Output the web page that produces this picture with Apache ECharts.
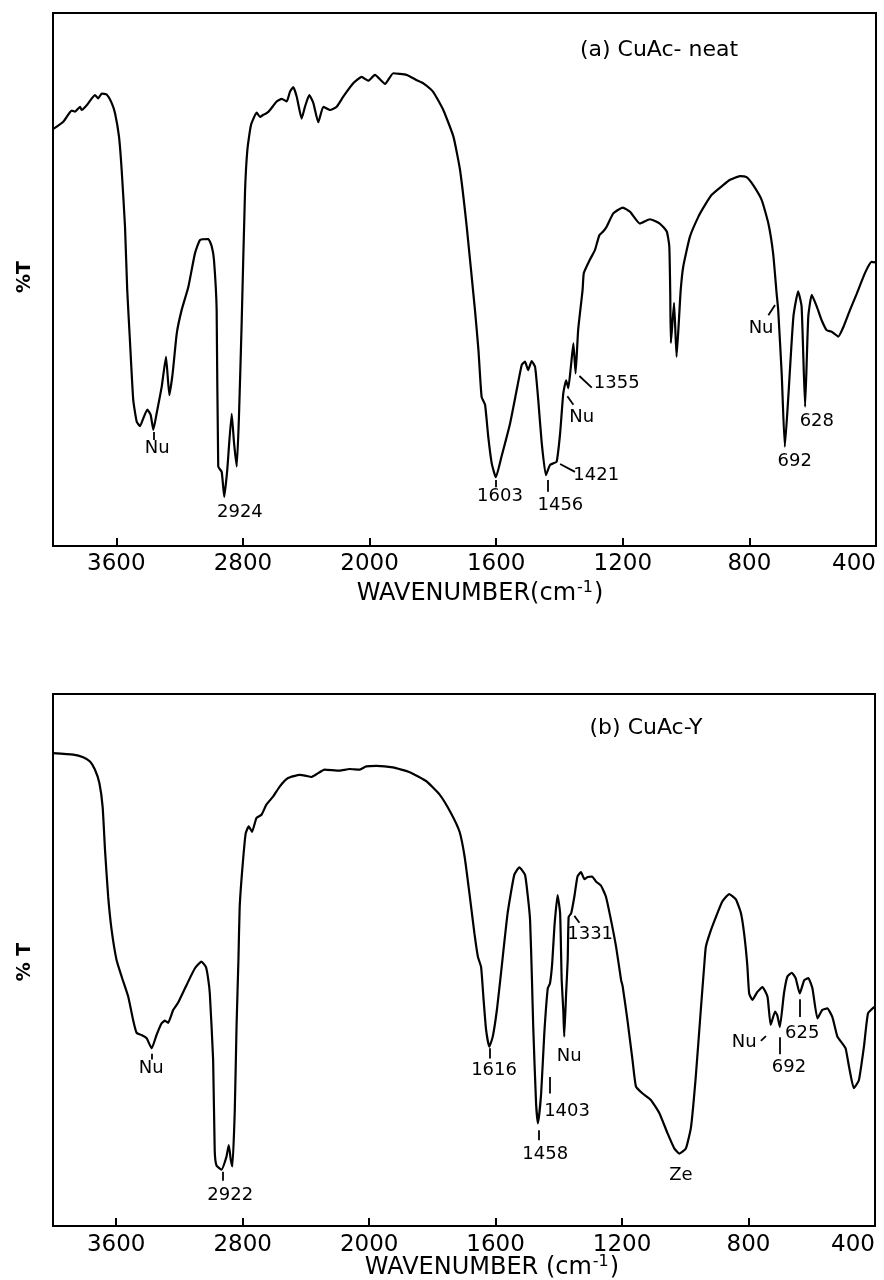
<!DOCTYPE html>
<html>
<head>
<meta charset="utf-8">
<script src="https://cdn.jsdelivr.net/npm/echarts@6.0.0/dist/echarts.min.js"></script>
<style>
html,body{margin:0;padding:0;background:#fff;}
#chart{width:884px;height:1280px;}
</style>
</head>
<body>
<div id="chart"></div>
<script>
// ---------- DATA (wavenumber in cm-1, %T on a 0-100 frame scale) ----------
const tickWavenumbers = [3600, 2800, 2000, 1600, 1200, 800, 400];

const waveA = [4000,3935,3882,3861,3829,3819,3787,3735,3714,3692,3661,3629,3608,3583,3566,3545,3531,3514,3493,3471,
  3450,3429,3404,3383,3366,3345,3313,3286,3265,3244,3218,3187,3145,3103,3071,3019,2997,2983,2966,2956,
  2934,2918,2899,2871,2856,2839,2825,2808,2787,2772,2749,2713,2692,2671,2650,2629,2587,2555,2523,2503,
  2482,2460,2429,2408,2381,2355,2324,2292,2250,2208,2166,2103,2050,2008,1983,1951,1925,1883,1851,1830,
  1799,1767,1735,1714,1693,1667,1656,1646,1635,1625,1614,1601,1583,1556,1535,1519,1509,1499,1488,1477,
  1467,1456,1443,1430,1420,1409,1398,1388,1379,1372,1364,1356,1349,1341,1327,1323,1304,1288,1274,1262,
  1251,1230,1200,1177,1146,1114,1083,1061,1053,1050,1048,1038,1030,1022,1017,1009,988,961,940,919,
  883,861,830,809,788,761,740,725,714,709,698,688,677,661,646,635,624,614,603,587,
  572,556,540,519,503,482,461,435,414,400];
const transA = [78.2,79.6,81.7,81.5,82.4,81.8,82.7,84.6,84.0,84.9,84.7,83.1,81.2,76.8,70.5,59.9,48.0,38.6,27.4,23.3,
  22.5,24.0,25.6,24.6,21.8,24.9,29.9,35.5,28.3,32.4,39.9,44.3,48.6,54.9,57.4,57.6,56.2,53.7,44.3,14.9,
  13.9,9.2,14.3,24.8,19.3,14.9,24.3,41.8,66.2,74.3,79.0,81.3,80.5,80.9,81.2,81.8,83.4,83.9,83.4,85.2,
  86.1,84.3,80.2,82.4,84.6,83.1,79.5,82.4,81.8,82.4,84.3,86.8,88.0,87.3,88.4,86.7,88.7,88.4,87.4,86.8,
  85.2,81.8,76.8,70.5,59.9,44.3,36.8,28.0,26.5,20.5,15.5,12.9,16.8,23.0,29.3,34.0,34.6,33.0,34.7,33.6,
  27.4,19.3,13.3,15.2,15.5,15.8,21.1,28.6,31.1,29.6,33.6,38.0,32.4,40.5,48.0,51.2,53.7,55.5,58.3,59.0,
  59.9,62.4,63.5,62.7,60.5,61.3,60.5,59.0,56.2,47.4,38.1,45.6,35.5,43.0,48.0,52.4,58.0,61.8,64.0,65.9,
  67.7,68.7,69.4,69.2,67.7,64.9,60.5,54.9,47.4,44.3,32.4,18.6,28.0,43.0,47.8,44.9,26.1,43.0,47.1,44.9,
  42.4,40.5,40.2,39.3,41.1,44.3,47.3,51.2,53.3,53.2];

const waveB = [4000,3872,3809,3766,3735,3707,3686,3671,3651,3629,3598,3566,3524,3493,3471,3440,3408,3376,3345,3313,
  3292,3272,3240,3208,3155,3103,3061,3033,3019,3008,2987,2977,2966,2934,2903,2888,2875,2865,2850,2839,
  2827,2819,2801,2781,2762,2741,2713,2681,2650,2608,2566,2513,2439,2397,2366,2334,2282,2187,2124,2060,
  2018,1977,1925,1872,1819,1777,1741,1714,1698,1683,1667,1656,1646,1638,1630,1620,1609,1596,1583,1562,
  1541,1525,1507,1498,1491,1485,1481,1472,1466,1456,1446,1435,1428,1421,1414,1404,1396,1391,1386,1383,
  1377,1372,1369,1361,1351,1341,1330,1319,1309,1295,1282,1267,1251,1235,1219,1203,1198,1183,1167,1156,
  1135,1109,1082,1056,1035,1019,998,982,967,951,940,935,919,903,883,861,840,824,814,804,
  798,788,772,756,740,730,716,709,701,688,677,663,651,638,624,611,598,582,567,551,
  535,519,503,493,482,467,451,435,422,402];
const transB = [88.9,88.6,88.1,87.3,85.8,83.3,78.8,70.7,61.9,55.6,50.0,46.9,43.1,38.7,36.3,35.9,35.3,33.4,35.9,38.1,
  38.6,38.2,40.6,42.0,45.3,48.4,49.7,48.7,46.6,43.7,31.2,14.2,11.4,10.6,13.0,15.2,12.4,11.2,21.8,37.4,
  50.0,60.0,67.6,73.8,75.1,74.1,76.7,77.3,79.2,80.7,82.6,84.2,84.8,84.6,84.4,84.9,85.8,85.6,85.9,85.8,
  86.4,86.5,86.2,85.3,83.6,81.1,77.6,74.1,69.4,62.6,55.0,50.6,48.7,42.5,36.8,33.7,35.6,40.6,47.5,58.8,
  66.0,67.4,66.0,61.9,57.5,46.2,37.4,23.0,19.3,24.9,36.2,44.7,45.6,49.4,56.3,62.2,58.8,46.2,40.6,35.6,
  43.7,50.0,58.1,58.8,61.9,65.7,66.5,65.2,65.6,65.7,64.7,64.0,61.9,57.5,52.5,46.2,45.0,38.7,31.2,26.2,
  24.9,23.7,21.2,17.4,14.6,13.6,14.6,18.6,28.0,40.6,49.1,52.5,55.6,58.1,61.0,62.4,61.4,58.8,55.0,49.1,
  43.7,42.5,44.0,44.9,43.1,37.8,40.3,39.6,37.4,43.7,46.9,47.6,46.6,43.7,46.2,46.6,44.7,39.0,40.6,40.9,
  39.3,35.6,34.3,33.4,29.9,25.9,27.4,33.7,40.0,41.2];

// peak annotations: [wavenumber, %T, text]
const labelsA = [[3341,18.3,'Nu'],[2819,6.3,'2924'],[1588,9.4,'1603'],[1397,7.7,'1456'],[1284,13.2,'1421'],
  [1330,24.2,'Nu'],[1219,30.5,'1355'],[763,40.8,'Nu'],[657,15.8,'692'],[587,23.3,'628']];
const leadersA = [[[3366,21.4],[3366,19.9]],[[1601,12.4],[1601,11.0]],[[1438,12.4],[1438,10.2]],
  [[1398,15.4],[1351,13.9]],[[1375,28.1],[1356,26.5]],[[1337,31.9],[1298,29.7]],[[740,43.3],[719,45.2]]];
const labelsB = [[3379,29.7,'Nu'],[2879,5.8,'2922'],[1605,29.2,'1616'],[1443,13.5,'1458'],[1374,21.6,'1403'],
  [1367,31.9,'Nu'],[1301,54.9,'1331'],[1014,9.5,'Ze'],[814,34.6,'Nu'],[672,29.9,'692'],[630,36.2,'625']];
const leadersB = [[[3373,32.4],[3373,31.3]],[[2924,10.2],[2924,8.5]],[[1617,33.4],[1617,31.5]],
  [[1465,18.0],[1465,16.1]],[[1430,28.0],[1430,24.9]],[[1351,58.3],[1335,57.0]],[[761,34.8],[745,35.7]],
  [[701,35.5],[701,32.3]],[[638,42.6],[638,39.3]]];

const titleA = '(a) CuAc- neat';
const titleB = '(b) CuAc-Y';
const yName = '%T';

// ---------- piecewise axis: scale halves above 2000 cm-1 ----------
function toPos(w){ return w <= 2000 ? w : 2000 + (w - 2000) / 2; }
function fromPos(p){ return p <= 2000 ? p : 2000 + 2 * (p - 2000); }
const tickSet = new Set(tickWavenumbers.map(toPos));

const FONT = 'DejaVu Sans';
const chart = echarts.init(document.getElementById('chart'), null, {renderer:'canvas'});

function xAxisCfg(gi, margin){
  return {
    type:'value', gridIndex:gi, min:toPos(400), max:toPos(4000), interval:400, inverse:true,
    axisLine:{show:true, lineStyle:{color:'#000', width:2}},
    axisTick:{show:true, inside:true, length:8, lineStyle:{color:'#000', width:2}},
    splitLine:{show:false},
    axisLabel:{show:true, color:'#000', fontFamily:FONT, fontSize:23, margin:margin,
      showMaxLabel:false, showMinLabel:true, alignMinLabel:'right',
      formatter:(v)=> tickSet.has(v) ? String(fromPos(v)) : ''}
  };
}
function yAxisCfg(gi){
  return {type:'value', gridIndex:gi, min:0, max:100, show:true,
    axisLine:{show:false}, axisTick:{show:false}, axisLabel:{show:false}, splitLine:{show:false}};
}
function curve(gi, w, t){
  return {type:'line', xAxisIndex:gi, yAxisIndex:gi, showSymbol:false, symbol:'none', smooth:0.15,
    lineStyle:{color:'#000', width:2.2}, data:w.map((v,i)=>[toPos(v), t[i]]), z:3, silent:true};
}
function labels(gi, arr){
  return {type:'scatter', xAxisIndex:gi, yAxisIndex:gi, symbol:'circle', symbolSize:0.01,
    itemStyle:{color:'#fff', opacity:1},
    data:arr.map(a=>[toPos(a[0]), a[1], a[2]]), silent:true, z:5,
    label:{show:true, position:'inside', formatter:(p)=>p.value[2], color:'#000', opacity:1,
      textBorderWidth:0, textShadowBlur:0, fontFamily:FONT, fontSize:18}};
}
function leaders(gi, arr){
  return {type:'lines', coordinateSystem:'cartesian2d', xAxisIndex:gi, yAxisIndex:gi, silent:true, z:5,
    lineStyle:{color:'#000', width:1.8, opacity:1},
    data:arr.map(l=>({coords:[[toPos(l[0][0]), l[0][1]],[toPos(l[1][0]), l[1][1]]]}))};
}

function axisName(x, y, spaced){
  return {type:'text', x:x, y:y, style:{
    text: spaced ? '{m|WAVENUMBER (cm}{s|-1}{m|)}' : '{m|WAVENUMBER(cm}{s|-1}{m|)}',
    align:'center', verticalAlign:'middle', fill:'#000',
    rich:{m:{fontFamily:FONT, fontSize:24, fill:'#000', lineHeight:28},
          s:{fontFamily:FONT, fontSize:16, fill:'#000', verticalAlign:'top', lineHeight:28, padding:[0,1,8,1]}}
  }};
}

chart.setOption({
  animation:false,
  backgroundColor:'#fff',
  grid:[
    {left:53, right:8, top:13, height:533, show:true, borderColor:'#000', borderWidth:2, backgroundColor:'transparent'},
    {left:53, right:9, top:694, height:532, show:true, borderColor:'#000', borderWidth:2, backgroundColor:'transparent'}
  ],
  xAxis:[xAxisCfg(0, 7), xAxisCfg(1, 8)],
  yAxis:[yAxisCfg(0), yAxisCfg(1)],
  series:[
    curve(0, waveA, transA), curve(1, waveB, transB),
    labels(0, labelsA), labels(1, labelsB),
    leaders(0, leadersA), leaders(1, leadersB)
  ],
  graphic:[
    {type:'text', x:659, y:50, style:{text:titleA, align:'center', verticalAlign:'middle', fill:'#000', fontFamily:FONT, fontSize:22}},
    {type:'text', x:646, y:728, style:{text:titleB, align:'center', verticalAlign:'middle', fill:'#000', fontFamily:FONT, fontSize:22}},
    {type:'text', x:25, y:277, rotation:Math.PI/2, style:{text:yName, align:'center', verticalAlign:'middle', fill:'#000', fontFamily:FONT, fontSize:19, fontWeight:'bold'}},
    {type:'text', x:25, y:962, rotation:Math.PI/2, style:{text:'% T', align:'center', verticalAlign:'middle', fill:'#000', fontFamily:FONT, fontSize:19, fontWeight:'bold'}},
    axisName(480, 594, false),
    axisName(492, 1268, true)
  ]
});
</script>
</body>
</html>
